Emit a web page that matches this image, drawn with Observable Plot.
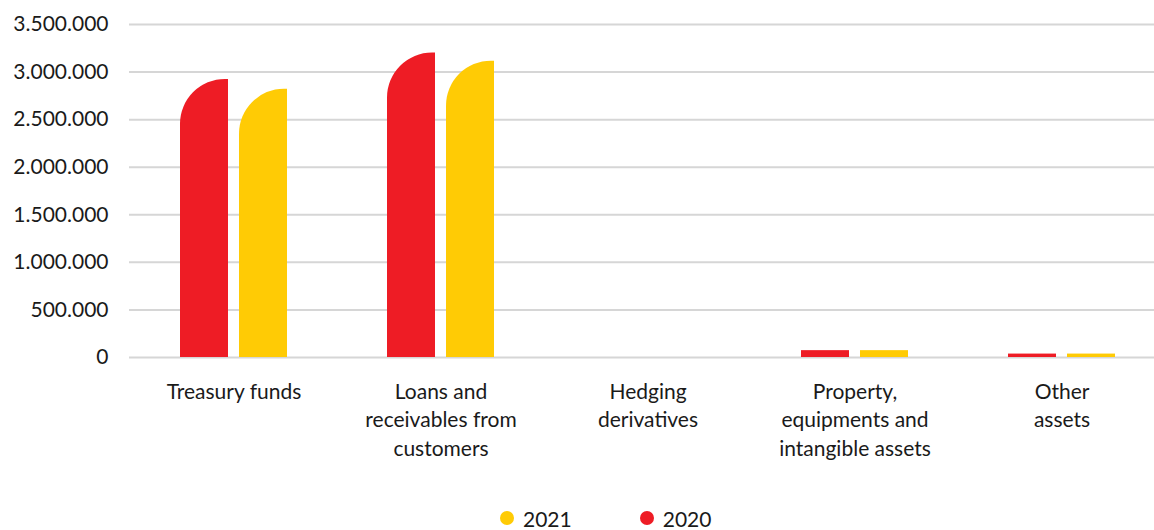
<!DOCTYPE html>
<html>
<head>
<meta charset="utf-8">
<script src="https://cdn.jsdelivr.net/npm/d3@7"></script>
<script src="https://cdn.jsdelivr.net/npm/@observablehq/plot@0.6"></script>
<style>
  html, body { margin: 0; padding: 0; background: #fff; }
  #chart { width: 1154px; }
  .legend { display: flex; justify-content: flex-start; padding-left: 500px; gap: 68px; font-family: Lato, "Open Sans", sans-serif; font-size: 21px; line-height: 1; color: #1a1a1a; height: 56px; align-items: center; }
  .legend span { display: inline-flex; align-items: center; line-height: 1; }
  .legend i { display: inline-block; width: 14px; height: 14px; border-radius: 50%; margin-right: 9px; }
</style>
</head>
<body>
<div id="chart"></div>
<script>
const categories = ["Treasury funds", "Loans and receivables from customers", "Hedging derivatives", "Property, equipments and intangible assets", "Other assets"];
const categoryLabels = ["Treasury funds", "Loans and\nreceivables from\ncustomers", "Hedging\nderivatives", "Property,\nequipments and\nintangible assets", "Other\nassets"];
const values2020 = [2923000, 3200000, 0, 72000, 36000];
const values2021 = [2820000, 3115000, 0, 72000, 36000];
const yTicks = [0, 500000, 1000000, 1500000, 2000000, 2500000, 3000000, 3500000];
const seriesNames = ["2021", "2020"];
const seriesColors = ["#FFCB05", "#EE1C25"];

const locale = d3.formatLocale({decimal: ",", thousands: ".", grouping: [3], currency: ["", ""]});
const fmt = locale.format(",d");

const d2020 = categories.map((c, i) => ({category: c, value: values2020[i]}));
const d2021 = categories.map((c, i) => ({category: c, value: values2021[i]}));
const BIG = 500000;
const labelOf = new Map(categories.map((c, i) => [c, categoryLabels[i]]));

const plot = Plot.plot({
  width: 1154,
  height: 490,
  marginLeft: 129,
  marginRight: 0,
  marginTop: 24,
  marginBottom: 133,
  style: {fontFamily: "Lato, 'Open Sans', sans-serif", fontSize: "21px", color: "#1a1a1a", background: "#fff"},
  x: {domain: categories, range: [130, 1165], paddingInner: 0.483, paddingOuter: 0.2415, label: null},
  y: {domain: [0, 3500000], label: null},
  marks: [
    Plot.gridY(yTicks, {stroke: "#d6d6d6", strokeOpacity: 1, strokeWidth: 2}),
    Plot.barY(d2020.filter(d => d.value >= BIG), {x: "category", y: "value", fill: seriesColors[1], insetRight: 59, rx1y1: 45}),
    Plot.barY(d2021.filter(d => d.value >= BIG), {x: "category", y: "value", fill: seriesColors[0], insetLeft: 59, rx1y1: 45}),
    Plot.barY(d2020.filter(d => d.value < BIG), {x: "category", y: "value", fill: seriesColors[1], insetRight: 59}),
    Plot.barY(d2021.filter(d => d.value < BIG), {x: "category", y: "value", fill: seriesColors[0], insetLeft: 59}),
    Plot.axisY({ticks: yTicks, tickFormat: fmt, tickSize: 0, tickPadding: 21, fontSize: 21}),
    Plot.axisX({tickSize: 0, tickPadding: 21, fontSize: 21, lineHeight: 1.36, tickFormat: d => labelOf.get(d)})
  ]
});
document.getElementById("chart").appendChild(plot);

const legend = document.createElement("div");
legend.className = "legend";
seriesNames.forEach((n, i) => {
  const s = document.createElement("span");
  s.innerHTML = `<i style="background:${seriesColors[i]}"></i>${n}`;
  legend.appendChild(s);
});
document.getElementById("chart").appendChild(legend);
</script>
</body>
</html>
